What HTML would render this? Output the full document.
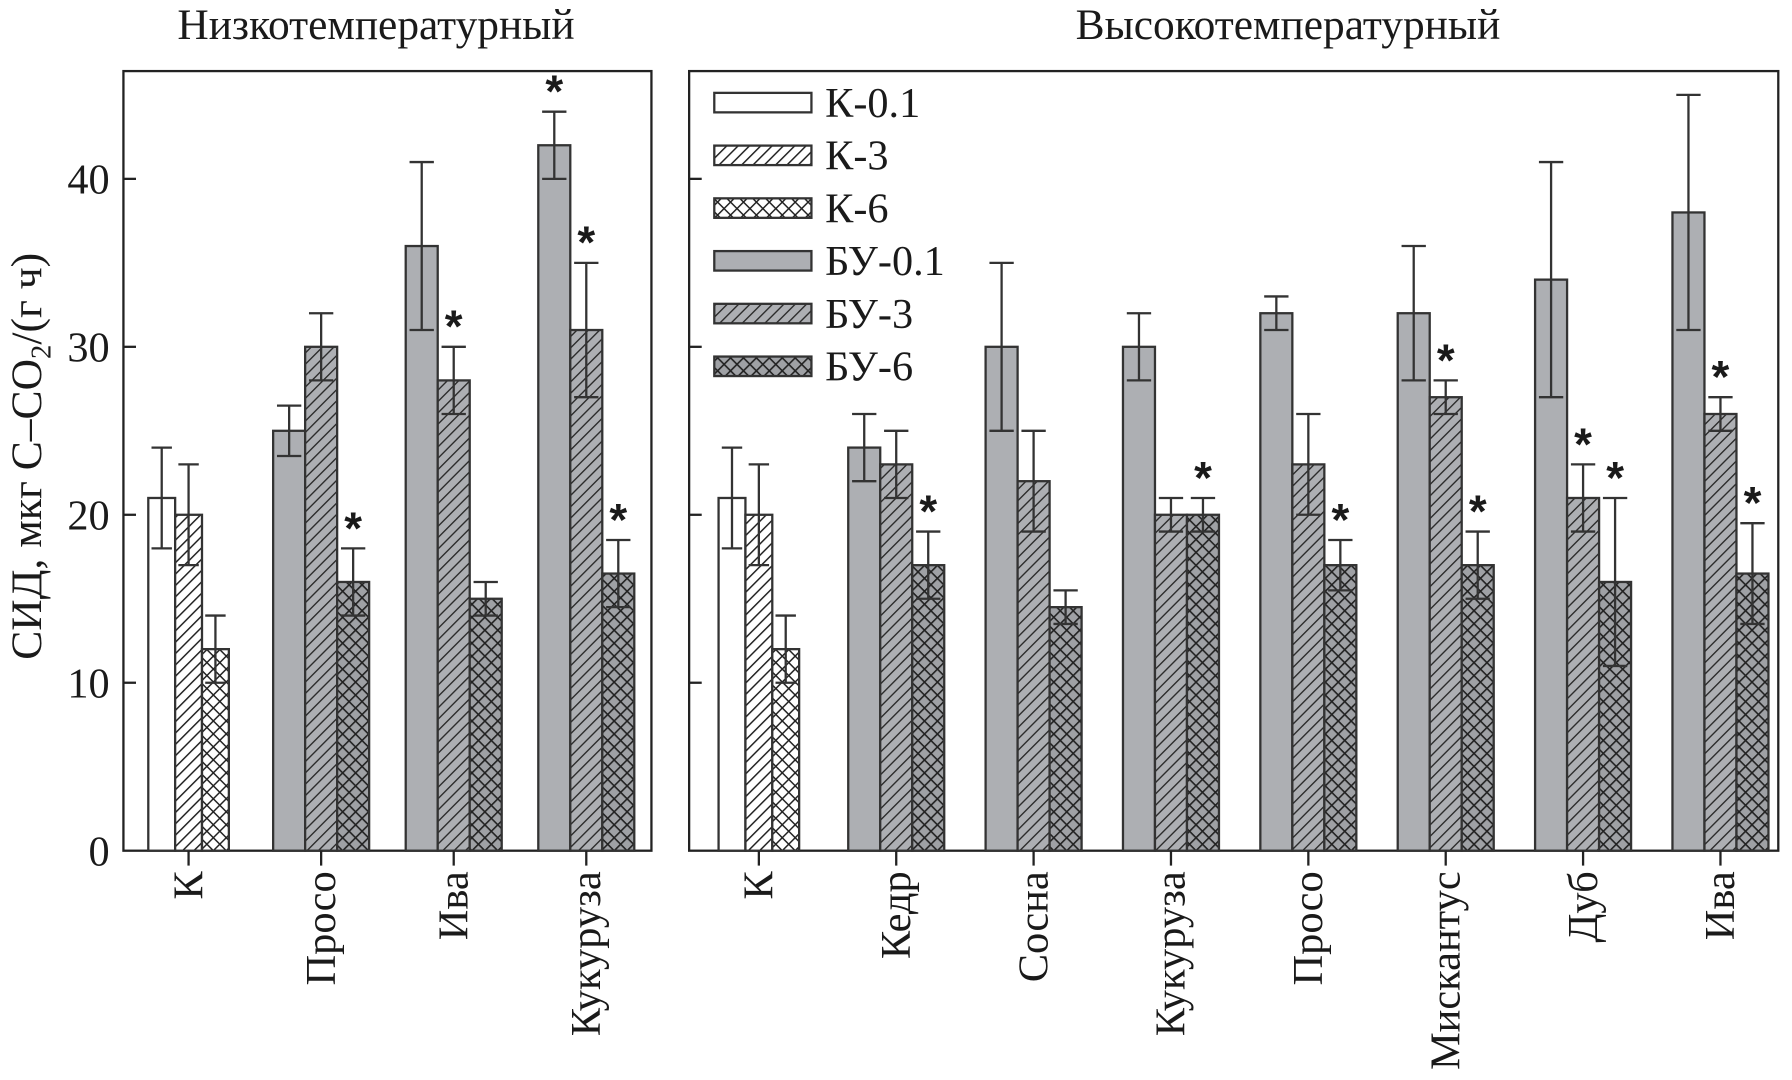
<!DOCTYPE html>
<html><head><meta charset="utf-8"><style>
html,body{margin:0;padding:0;background:#fff;}
svg{display:block;}
text{font-family:"Liberation Serif","DejaVu Serif",serif;fill:#1a1a1a;}
</style></head><body>
<svg id="chart" width="1792" height="1080" viewBox="0 0 1568 942" preserveAspectRatio="none" xmlns="http://www.w3.org/2000/svg">
<defs>
<pattern id="hatchW" patternUnits="userSpaceOnUse" width="7" height="7" patternTransform="rotate(45)"><rect width="7" height="7" fill="#fff"/><line x1="0" y1="0" x2="0" y2="7" stroke="#222" stroke-width="2.6"/></pattern>
<pattern id="crossW" patternUnits="userSpaceOnUse" width="8" height="8" patternTransform="rotate(45)"><rect width="8" height="8" fill="#fff"/><line x1="0" y1="0" x2="0" y2="8" stroke="#222" stroke-width="2.6"/><line x1="0" y1="0" x2="8" y2="0" stroke="#222" stroke-width="2.6"/></pattern>
<pattern id="hatchG" patternUnits="userSpaceOnUse" width="7" height="7" patternTransform="rotate(45)"><rect width="7" height="7" fill="#adafb3"/><line x1="0" y1="0" x2="0" y2="7" stroke="#2a2a2a" stroke-width="2.4"/></pattern>
<pattern id="crossG" patternUnits="userSpaceOnUse" width="8" height="8" patternTransform="rotate(45)"><rect width="8" height="8" fill="#9fa1a5"/><line x1="0" y1="0" x2="0" y2="8" stroke="#222" stroke-width="2.8"/><line x1="0" y1="0" x2="8" y2="0" stroke="#222" stroke-width="2.8"/></pattern>
</defs>
<g id="root"></g>
</svg>
<script>
// ---- data ----
const leftCats = ["К","Просо","Ива","Кукуруза"];
const rightCats = ["К","Кедр","Сосна","Кукуруза","Просо","Мискантус","Дуб","Ива"];
const seriesNames = ["К-0.1","К-3","К-6","БУ-0.1","БУ-3","БУ-6"];
const yTicks = [0,10,20,30,40];
// control group (K) values: K-0.1, K-3, K-6
const controlVals = [21,20,12];
const controlErr = [3,3,2];
// left panel biochar groups: BU-0.1, BU-3, BU-6
const leftBU01 = [25,36,42];
const leftBU3 = [30,28,31];
const leftBU6 = [16,15,16.5];
const leftErr01 = [1.5,5,2];
const leftErr3 = [2,2,4];
const leftErr6 = [2,1,2];
const leftStar01 = [0,0,1];
const leftStar3 = [0,1,1];
const leftStar6 = [1,0,1];
// right panel
const rightBU01 = [24,30,30,32,32,34,38];
const rightBU3 = [23,22,20,23,27,21,26];
const rightBU6 = [17,14.5,20,17,17,16,16.5];
const rightErr01 = [2,5,2,1,4,7,7];
const rightErr3 = [2,3,1,3,1,2,1];
const rightErr6 = [2,1,1,1.5,2,5,3];
const rightStar01 = [0,0,0,0,0,0,0];
const rightStar3 = [0,0,0,0,1,1,1];
const rightStar6 = [1,0,1,1,1,1,1];

const NS="http://www.w3.org/2000/svg";
const root=document.getElementById('root');
function mk(tag,attrs,parent){const e=document.createElementNS(NS,tag);for(const k in attrs)e.setAttribute(k,attrs[k]);(parent||root).appendChild(e);return e;}
const Y0=742, UNIT=14.65;
function y(v){return Y0-v*UNIT;}
const fills=["#fff","url(#hatchW)","url(#crossW)","#adafb3","url(#hatchG)","url(#crossG)"];

function drawBar(x,w,v,e,si,star,name){
  const r=mk('rect',{x:x,y:y(v),width:w,height:Y0-y(v),fill:fills[si],stroke:'#333','stroke-width':2});
  
  
  const cx=x+w/2, cw=w*0.38;
  const eb=mk('path',{d:`M${cx},${y(v+e)}V${y(v-e)}M${cx-cw},${y(v+e)}H${cx+cw}M${cx-cw},${y(v-e)}H${cx+cw}`,stroke:'#333','stroke-width':2,fill:'none'});
  
  
  if(star){
    const t=mk('text',{x:cx,y:y(v+e)-4,'text-anchor':'middle','font-size':40,'font-weight':'bold',style:'font-family:"Liberation Sans",sans-serif'});
    t.textContent='*';
    
    
  }
}
function panel(x0,x1,name,labels){
  const f=mk('rect',{x:x0,y:62,width:x1-x0,height:Y0-62,fill:'none',stroke:'#222','stroke-width':2});
  
  
  yTicks.forEach(t=>{
    if(t!==0){
      const l=mk('line',{x1:x0,x2:x0+11,y1:y(t),y2:y(t),stroke:'#222','stroke-width':2});
      
      
    }
    if(labels){
      const tx=mk('text',{x:x0-12,y:y(t)+13,'text-anchor':'end','font-size':37});
      tx.textContent=t;
      
      
    }
  });
}
function xLabel(cx,lab){
  const tk=mk('line',{x1:cx,x2:cx,y1:Y0,y2:Y0+13,stroke:'#222','stroke-width':2});
  
  
  const t=mk('text',{x:0,y:0,'text-anchor':'end','font-size':37,transform:`translate(${cx+12},${Y0+18}) rotate(-90)`});
  t.textContent=lab;
  
  
}
function controlGroup(cx){
  const w=23.5;
  for(let i=0;i<3;i++) drawBar(cx-1.5*w+i*w,w,controlVals[i],controlErr[i],i,0,'bar-'+seriesNames[i]);
}
function buGroup(cx,v,e,s,idx){
  const w=28;
  const arr=[[v[0],e[0],s[0]],[v[1],e[1],s[1]],[v[2],e[2],s[2]]];
  arr.forEach((a,i)=>drawBar(cx-1.5*w+i*w,w,a[0][idx],a[1][idx],3+i,a[2][idx],'bar-'+seriesNames[3+i]));
}
// left panel
panel(108,570,'left-panel',true);
const leftCenters=leftCats.map((c,i)=>165+i*116);
controlGroup(leftCenters[0]);
for(let i=1;i<leftCats.length;i++) buGroup(leftCenters[i],[leftBU01,leftBU3,leftBU6],[leftErr01,leftErr3,leftErr6],[leftStar01,leftStar3,leftStar6],i-1);
leftCats.forEach((c,i)=>xLabel(leftCenters[i],c));
// right panel
panel(603,1556,'right-panel',false);
const rightCenters=rightCats.map((c,i)=>664+i*120.2);
controlGroup(rightCenters[0]);
for(let i=1;i<rightCats.length;i++) buGroup(rightCenters[i],[rightBU01,rightBU3,rightBU6],[rightErr01,rightErr3,rightErr6],[rightStar01,rightStar3,rightStar6],i-1);
rightCats.forEach((c,i)=>xLabel(rightCenters[i],c));
// legend
seriesNames.forEach((n,i)=>{
  const cy=89+i*46;
  const r=mk('rect',{x:625,y:cy-8,width:85,height:17,fill:fills[i],stroke:'#333','stroke-width':2});
  
  
  const t=mk('text',{x:722,y:cy+13,'font-size':37});
  t.textContent=n;
  
  
});
// titles
const t1=mk('text',{x:329,y:34,'text-anchor':'middle','font-size':38});
t1.textContent='Низкотемпературный';


const t2=mk('text',{x:1127,y:34,'text-anchor':'middle','font-size':38});
t2.textContent='Высокотемпературный';


const yl=mk('text',{x:0,y:0,'text-anchor':'middle','font-size':38,transform:'translate(36,398) rotate(-90)'});
yl.innerHTML='СИД, мкг С–CO<tspan font-size="25" dy="8">2</tspan><tspan dy="-8">/(г ч)</tspan>';


</script>
</body></html>
